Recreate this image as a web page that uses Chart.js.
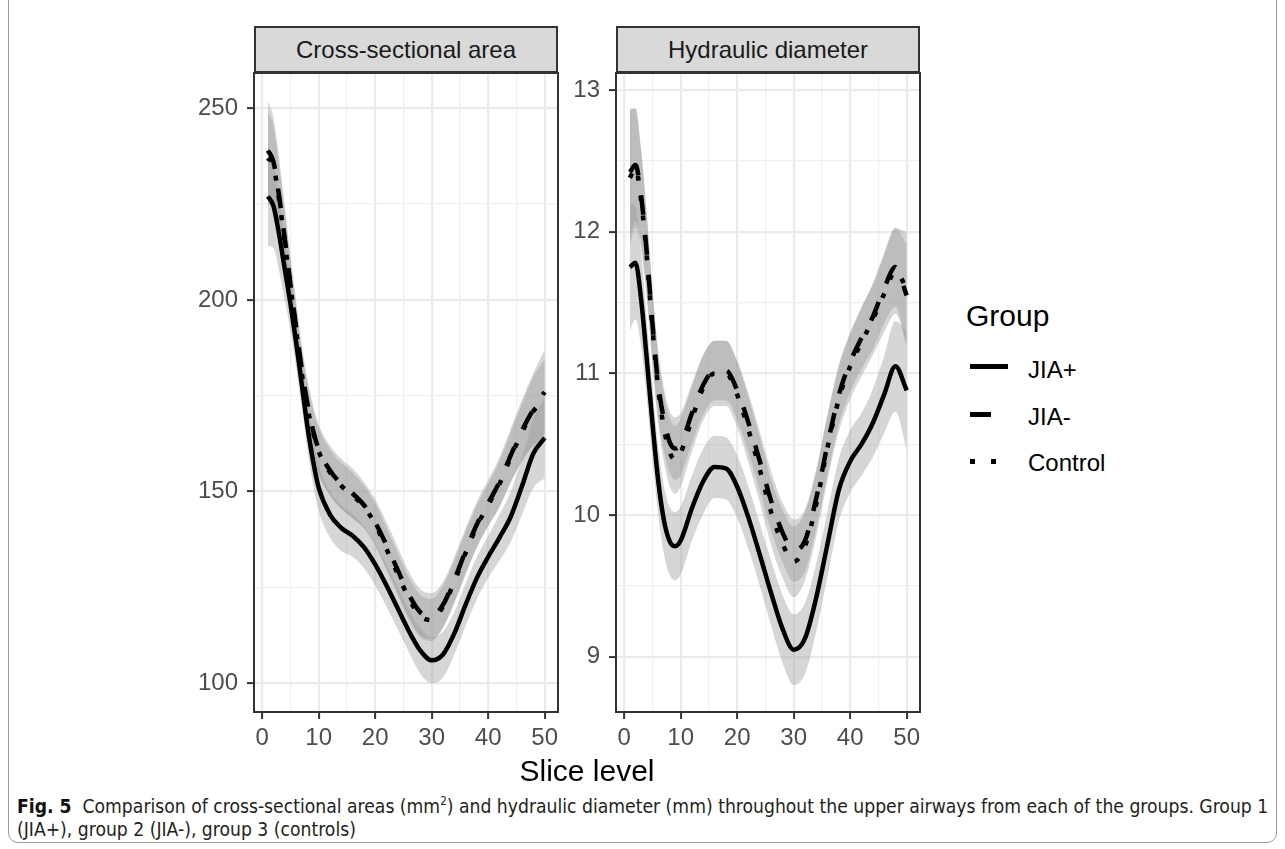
<!DOCTYPE html>
<html><head><meta charset="utf-8">
<script src="https://cdn.jsdelivr.net/npm/chart.js@4.4.0/dist/chart.umd.min.js"></script>
<style>
html,body{margin:0;padding:0;background:#fff;}
body{width:1285px;height:849px;position:relative;overflow:hidden;font-family:"Liberation Sans",Arial,Helvetica,sans-serif;}
.frame{position:absolute;left:8px;top:-14px;width:1269px;height:857px;border:1.5px solid #9b9b9b;border-radius:10px;box-sizing:border-box;}
.strip{position:absolute;top:26px;height:47px;width:304px;background:#d9d9d9;border:2px solid #333;box-sizing:border-box;color:#1a1a1a;font-size:24px;line-height:43px;text-align:center;white-space:nowrap;}
canvas{position:absolute;}
.ltitle{position:absolute;left:966px;top:301px;font-size:30px;line-height:30px;color:#000;}
.lentry{position:absolute;left:1028px;font-size:24px;line-height:24px;color:#000;}
.key{position:absolute;background:#000;}
.xtitle{position:absolute;left:387px;width:400px;text-align:center;top:756px;font-size:30px;line-height:30px;color:#000;}
.cap{position:absolute;left:17px;white-space:nowrap;font-family:"Liberation Sans Narrow","DejaVu Sans Condensed","Liberation Sans",sans-serif;font-size:20px;line-height:22px;color:#231f20;transform-origin:0 0;}
.cap b{font-weight:bold;color:#111;}
</style>
</head><body>
<div class="frame"></div>
<div class="strip" style="left:254px;">Cross-sectional area</div>
<div class="strip" style="left:616px;">Hydraulic diameter</div>
<canvas id="c1" width="440" height="710" style="left:130px;top:63px;width:440px;height:710px;"></canvas>
<canvas id="c2" width="375" height="710" style="left:565px;top:63px;width:375px;height:710px;"></canvas>
<div class="xtitle">Slice level</div>
<div class="ltitle">Group</div>
<div class="key" style="left:970px;top:364px;width:38px;height:5px;"></div>
<div class="lentry" style="top:358px;">JIA+</div>
<div class="key" style="left:970px;top:412px;width:21px;height:5px;"></div>
<div class="lentry" style="top:405px;">JIA-</div>
<div class="key" style="left:970px;top:459px;width:5px;height:5px;"></div>
<div class="key" style="left:991px;top:459px;width:5px;height:5px;"></div>
<div class="lentry" style="top:451px;">Control</div>
<div class="cap" id="cap1" style="top:795px;"><b>Fig. 5</b>&nbsp;&nbsp;Comparison of cross-sectional areas (mm<sup style="font-size:12px;line-height:0;">2</sup>) and hydraulic diameter (mm) throughout the upper airways from each of the groups. Group 1</div>
<div class="cap" id="cap2" style="top:818px;">(JIA+), group 2 (JIA-), group 3 (controls)</div>
<script>
// ---- data ----
const slices = [1,2,3,4,5,6,7,8,9,10,12,14,16,18,20,22,24,26,28,30,32,34,36,38,40,42,44,46,48,50];

// Cross-sectional area (mm^2)
const areaJIAplus    = [227,224.5,217,208,199,189,178,167,158,151,144,140.5,138.5,135.5,131,125.5,119.5,113.5,108.5,106,107.5,113,120.5,127.5,133,138,143.5,151.5,160,164];
const areaJIAplusCI  = [13,11,9.5,8,7,6.5,6,6,6,6,6,6,5.5,5.5,5.5,5.5,5.5,5.5,6,6,6,5.5,5.5,5.5,5.5,6,6.5,7.5,9,10.5];
const areaJIAminus   = [239,236,227,216,204,193,182,173,166,161,155.5,152,149.5,146.5,142,136,129.5,123,118.5,117.5,120.5,127,134.5,141.5,147,152.5,159.5,166,171.5,176];
const areaJIAminusCI = [13,11.5,10,8.5,7.5,7,6.5,6.5,6.5,6.5,6.5,6.5,6.5,6,6,6,6,6,6,6,6,6,6,6,6,6.5,7,8,9.5,11];
const areaControl    = [237,235,226,215,203.5,192,181,172,165.5,160.5,155,151.5,149,146,141.5,135,128.5,122,117.5,116.5,120,126.5,134,141,146.5,152,159,165.5,171,174];
const areaControlCI  = [12,10.5,9,8,7,6.5,6,6,6,6,6,6,6,5.5,5.5,5.5,5.5,5.5,5.5,5.5,5.5,5.5,5.5,5.5,5.5,6,6.5,7.5,9,10.5];

// Hydraulic diameter (mm)
const diamJIAplus    = [11.75,11.78,11.52,11.1,10.65,10.25,9.97,9.82,9.78,9.82,10.05,10.24,10.34,10.33,10.2,9.98,9.72,9.45,9.2,9.05,9.13,9.42,9.8,10.18,10.38,10.5,10.65,10.85,11.05,10.88];
const diamJIAplusCI  = [0.45,0.4,0.33,0.28,0.25,0.24,0.24,0.24,0.24,0.24,0.23,0.23,0.22,0.22,0.22,0.22,0.22,0.23,0.24,0.25,0.25,0.24,0.23,0.22,0.22,0.22,0.24,0.27,0.32,0.42];
const diamJIAminus   = [12.42,12.47,12.25,11.85,11.35,10.93,10.68,10.52,10.47,10.5,10.72,10.92,11.02,11.02,10.88,10.65,10.38,10.1,9.88,9.75,9.82,10.12,10.5,10.85,11.08,11.25,11.4,11.6,11.75,11.55];
const diamJIAminusCI = [0.45,0.4,0.33,0.28,0.25,0.23,0.22,0.22,0.22,0.22,0.21,0.21,0.21,0.21,0.21,0.21,0.21,0.21,0.21,0.22,0.22,0.21,0.21,0.21,0.21,0.22,0.23,0.25,0.28,0.36];
const diamControl    = [12.38,12.45,12.22,11.82,11.32,10.9,10.62,10.45,10.39,10.44,10.68,10.9,11.0,11.0,10.85,10.6,10.32,10.02,9.8,9.67,9.78,10.08,10.48,10.82,11.05,11.22,11.38,11.56,11.72,11.6];
const diamControlCI  = [0.48,0.42,0.35,0.3,0.27,0.25,0.24,0.24,0.24,0.24,0.23,0.23,0.23,0.23,0.23,0.23,0.23,0.23,0.24,0.25,0.24,0.23,0.23,0.23,0.23,0.24,0.25,0.27,0.3,0.4];

const xTicks = [0,5,10,15,20,25,30,35,40,45,50];
const xLabels = [0,10,20,30,40,50];
const areaTicks = [100,125,150,175,200,225,250];
const areaLabels = [100,150,200,250];
const diamTicks = [9,9.5,10,10.5,11,11.5,12,12.5,13];
const diamLabels = [9,10,11,12,13];

// ---- drawing ----
const FONT = "'Liberation Sans', Arial, sans-serif";
const DASH = {solid: [], dashed: [20, 20], dotted: [5, 15]};

function makeDatasets(series){
  const ds = [];
  series.forEach(s => {
    ds.push({data: slices.map((x,i)=>({x, y: s.mean[i]-s.ci[i]})), borderColor:'rgba(0,0,0,0)', borderWidth:0, pointRadius:0, fill:false, order:3, cubicInterpolationMode:'monotone'});
    ds.push({data: slices.map((x,i)=>({x, y: s.mean[i]+s.ci[i]})), borderColor:'rgba(0,0,0,0)', borderWidth:0, pointRadius:0, fill:'-1', backgroundColor:'rgba(153,153,153,0.4)', order:3, cubicInterpolationMode:'monotone'});
  });
  series.forEach(s => {
    ds.push({data: slices.map((x,i)=>({x, y: s.mean[i]})), borderColor:'#000', borderWidth:4.5, borderDash:s.dash, borderCapStyle:'butt', borderJoinStyle:'round', pointRadius:0, fill:false, order:1, cubicInterpolationMode:'monotone'});
  });
  return ds;
}

const panelBorder = {id:'panelBorder', afterDraw(chart){
  const {ctx, chartArea:a} = chart;
  ctx.save(); ctx.strokeStyle='#333'; ctx.lineWidth=2;
  ctx.strokeRect(a.left, a.top, a.right-a.left, a.bottom-a.top);
  ctx.restore();
}};

function axis(opts){
  const major = v => opts.labels.includes(v);
  return {
    type:'linear', position:opts.position, min:opts.min, max:opts.max,
    afterBuildTicks: sc => { sc.ticks = opts.ticks.map(v=>({value:v})); },
    afterFit: sc => {
      if (opts.position==='left') sc.width = opts.size; else sc.height = opts.size;
      sc.paddingTop = 0; sc.paddingBottom = 0; sc.paddingLeft = 0; sc.paddingRight = 0;
    },
    border:{display:false},
    grid:{
      color: c => (c.tick && major(c.tick.value)) ? '#ebebeb' : '#efefef',
      lineWidth: c => (c.tick && major(c.tick.value)) ? 2.2 : 1.2,
      drawTicks:true, tickLength:7, tickWidth:2,
      tickColor: c => (c.tick && major(c.tick.value)) ? '#333' : 'rgba(0,0,0,0)'
    },
    ticks:{autoSkip:false, maxRotation:0, minRotation:0, padding:opts.pad, color:'#4d4d4d',
      font:{size:24, family:FONT},
      callback: v => major(v) ? String(v) : ''}
  };
}

function makeChart(id, series, yopts, padRight){
  return new Chart(document.getElementById(id), {
    type:'line',
    data:{datasets: makeDatasets(series)},
    options:{
      responsive:false, animation:false, devicePixelRatio:1, events:[],
      layout:{padding:{top:10, right:padRight, left:0, bottom:0}},
      plugins:{legend:{display:false}, tooltip:{enabled:false}},
      scales:{
        x: axis({position:'bottom', min:-1.45, max:52.35, ticks:xTicks, labels:xLabels, size:61, pad:5}),
        y: axis(yopts)
      }
    },
    plugins:[panelBorder]
  });
}

makeChart('c1', [
  {mean:areaJIAplus, ci:areaJIAplusCI, dash:DASH.solid},
  {mean:areaJIAminus, ci:areaJIAminusCI, dash:DASH.dashed},
  {mean:areaControl, ci:areaControlCI, dash:DASH.dotted}
], {position:'left', min:92.5, max:259.2, ticks:areaTicks, labels:areaLabels, size:124, pad:9}, 12);

makeChart('c2', [
  {mean:diamJIAplus, ci:diamJIAplusCI, dash:DASH.solid},
  {mean:diamJIAminus, ci:diamJIAminusCI, dash:DASH.dashed},
  {mean:diamControl, ci:diamControlCI, dash:DASH.dotted}
], {position:'left', min:8.61, max:13.12, ticks:diamTicks, labels:diamLabels, size:51, pad:9}, 20);

// fit caption width
const c1 = document.getElementById('cap1'), c2 = document.getElementById('cap2');
const k = 1251 / c1.scrollWidth;
c1.style.transform = 'scaleX(' + k + ')';
c2.style.transform = 'scaleX(' + k + ')';
</script>
</body></html>
